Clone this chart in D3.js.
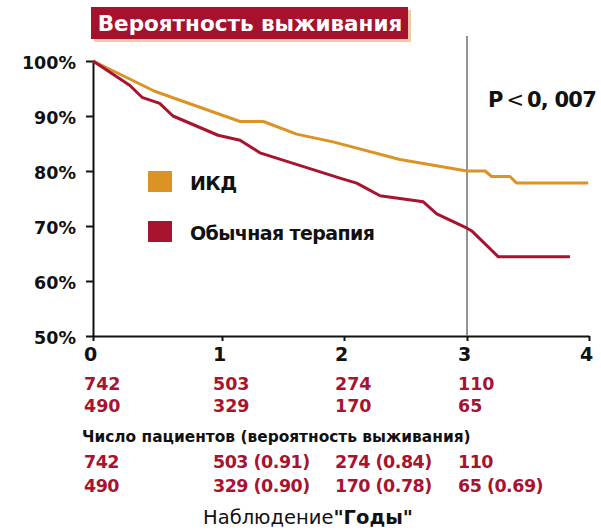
<!DOCTYPE html>
<html>
<head>
<meta charset="utf-8">
<script src="https://cdn.jsdelivr.net/npm/d3@7"></script>
<style>
  body { margin: 0; background: #fff; }
  svg { display: block; }
  text { font-family: "DejaVu Sans", sans-serif; }
</style>
</head>
<body>
<script>
// survival curves: [year, percent]
var icdCurve = [[0, 100], [0.478, 94.5], [1.148, 89.0], [1.339, 89.0], [1.612, 86.7], [1.91, 85.3],
  [2.455, 82.1], [3.0, 80.0], [3.148, 80.0], [3.202, 79.0], [3.352, 79.0], [3.407, 77.8], [3.994, 77.8]];
var convCurve = [[0, 100], [0.284, 95.6], [0.380, 93.4], [0.517, 92.3], [0.620, 90.0], [0.969, 86.5],
  [1.148, 85.6], [1.311, 83.3], [1.967, 78.7], [2.103, 77.8], [2.293, 75.5], [2.645, 74.4],
  [2.754, 72.2], [3.0, 69.6], [3.039, 69.1], [3.257, 64.4], [3.844, 64.4]];

var years = [0, 1, 2, 3, 4];
var yTicks = [50, 60, 70, 80, 90, 100];
var seriesNames = ["ИКД", "Обычная терапия"];

// patients at risk, and survival probability where given
var icdAtRisk = [742, 503, 274, 110];
var convAtRisk = [490, 329, 170, 65];
var icdSurv = [null, 0.91, 0.84, null];
var convSurv = [null, 0.90, 0.78, 0.69];

var orange = "#dc9326", crimson = "#a8132f";

var svg = d3.select("body").append("svg")
  .attr("width", 601)
  .attr("height", 531);

// tick positions in the original are not quite evenly spaced
var x = d3.scaleLinear().domain(years).range([93, 222, 344, 467, 589]);
var y = d3.scaleLinear().domain([50, 100]).range([336, 61]);

// title
svg.append("rect").attr("x", 94).attr("y", 10).attr("width", 317).attr("height", 32).attr("fill", "#f1caa9");
svg.append("rect").attr("x", 91).attr("y", 7).attr("width", 317).attr("height", 32).attr("fill", "#a6122d");
svg.append("text")
  .attr("x", 250).attr("y", 31)
  .attr("text-anchor", "middle")
  .attr("fill", "#fff")
  .attr("font-weight", "bold")
  .attr("font-size", 21.5)
  .text("Вероятность выживания");

// axes
var yAxis = svg.append("g")
  .attr("transform", "translate(93,0)")
  .call(d3.axisLeft(y).tickValues(yTicks).tickSize(7).tickSizeOuter(0).tickPadding(10)
    .tickFormat(function(d){ return d + "%"; }));
var xAxis = svg.append("g")
  .attr("transform", "translate(0,336)")
  .call(d3.axisBottom(x).tickValues(years).tickSize(5).tickSizeOuter(0).tickPadding(7)
    .tickFormat(d3.format("d")));

[yAxis, xAxis].forEach(function(g){
  g.selectAll("path, line").attr("stroke", "#111").attr("stroke-width", 2);
  g.selectAll("text")
    .attr("fill", "#111")
    .attr("font-family", "DejaVu Sans")
    .attr("font-weight", "bold")
    .attr("font-size", 17.5);
});
yAxis.selectAll("text").attr("dy", "0.45em");
xAxis.selectAll("text").attr("font-size", 19).attr("dx", -3);

// vertical marker at 3 years
svg.append("line")
  .attr("x1", x(3)).attr("x2", x(3))
  .attr("y1", 36).attr("y2", 336)
  .attr("stroke", "#6f6f6f")
  .attr("stroke-width", 1.5);

// curves
var line = d3.line()
  .x(function(d){ return x(d[0]); })
  .y(function(d){ return y(d[1]); });

svg.selectAll("path.curve")
  .data([{pts: icdCurve, color: orange}, {pts: convCurve, color: crimson}])
  .enter()
  .append("path")
  .attr("class", "curve")
  .attr("d", function(d){ return line(d.pts); })
  .attr("fill", "none")
  .attr("stroke", function(d){ return d.color; })
  .attr("stroke-width", 3)
  .attr("stroke-linejoin", "round");

// legend
var legend = svg.selectAll("g.legend")
  .data(seriesNames)
  .enter()
  .append("g")
  .attr("class", "legend")
  .attr("transform", function(d, i){ return "translate(148," + (171 + i * 50) + ")"; });
legend.append("rect")
  .attr("width", 24).attr("height", 21)
  .attr("fill", function(d, i){ return i === 0 ? orange : crimson; });
legend.append("text")
  .attr("x", 42).attr("y", 19)
  .attr("font-weight", "bold")
  .attr("font-size", 19)
  .attr("letter-spacing", -0.6)
  .attr("fill", "#111")
  .text(function(d){ return d; });

// p value
var p = svg.append("text")
  .attr("x", 488).attr("y", 107)
  .attr("font-size", 21)
  .attr("fill", "#111");
p.append("tspan").attr("font-weight", "bold").text("P");
p.append("tspan").attr("font-weight", "normal").attr("dx", 3).text("<");
p.append("tspan").attr("font-weight", "bold").attr("dx", 3).attr("letter-spacing", -0.8).text("0, 007");

// number at risk
function riskRow(values, surv, yPos) {
  svg.append("g").selectAll("text")
    .data(values)
    .enter()
    .append("text")
    .attr("x", function(d, i){ return x(i) - 9; })
    .attr("y", yPos)
    .attr("font-weight", "bold")
    .attr("font-size", 17.5)
    .attr("letter-spacing", surv ? -0.5 : 0)
    .attr("fill", crimson)
    .text(function(d, i){
      if (!surv || surv[i] === null) return d;
      return d + " (" + surv[i].toFixed(2) + ")";
    });
}
riskRow(icdAtRisk, null, 390);
riskRow(convAtRisk, null, 412);

svg.append("text")
  .attr("x", 82).attr("y", 442)
  .attr("font-weight", "bold")
  .attr("font-size", 15.4)
  .attr("fill", "#111")
  .text("Число пациентов (вероятность выживания)");

riskRow(icdAtRisk, icdSurv, 468);
riskRow(convAtRisk, convSurv, 492);

// x axis title
var xt = svg.append("text")
  .attr("x", 308).attr("y", 524)
  .attr("text-anchor", "middle")
  .attr("font-size", 19.5)
  .attr("fill", "#111");
xt.append("tspan").text("Наблюдение");
xt.append("tspan").attr("font-weight", "bold").text("\"Годы\"");
</script>
</body>
</html>
